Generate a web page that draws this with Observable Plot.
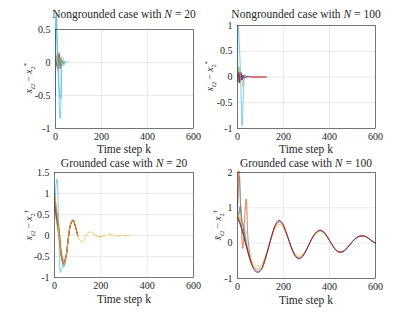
<!DOCTYPE html>
<html><head><meta charset="utf-8">
<script src="https://cdn.jsdelivr.net/npm/d3@7"></script>
<script src="https://cdn.jsdelivr.net/npm/@observablehq/plot@0.6"></script>
<style>
html,body{margin:0;padding:0;background:#fff;}
#root{position:relative;width:415px;height:312px;overflow:hidden;font-family:"Liberation Serif","DejaVu Serif",serif;color:#262626;}
.p{position:absolute;}
.t{position:absolute;font-size:11.5px;line-height:12px;white-space:nowrap;transform:translate(-50%,-50%);}
.yl{position:absolute;font-size:9.5px;white-space:nowrap;transform:translate(-50%,-50%) rotate(-90deg);}
sub,sup{font-size:70%;}
</style></head><body><div id="root"></div>
<script>
// MATLAB default colour order
const cBlue="#0072BD", cOrange="#D95319", cYellow="#EDB120", cPurple="#7E2F8E", cGreen="#77AC30", cLight="#4DBEEE", cRed="#A2142F";

// ---- Top-left: nongrounded, N = 20 ----
const tlK_light1=[0,3,20,25,28,35,45,55];
const tlV_light1=[-0.5,0.75,-0.85,-0.5,0.02,-0.05,0.02,0];
const tlK_light2=[0,2,8,14,22,30,40];
const tlV_light2=[0.3,0.7,0.15,-0.3,-0.55,0.08,0];
const tlK_orange=[0,10,15,20,25,30,40];
const tlV_orange=[0.1,-0.1,0.15,-0.1,0.05,-0.02,0];
const tlK_yellow=[0,8,14,20,26,34];
const tlV_yellow=[-0.1,0.15,-0.1,0.1,-0.05,0];
const tlK_purple=[0,10,16,22,28,36];
const tlV_purple=[0.05,-0.08,0.12,-0.06,0.03,0];
const tlK_green=[5,12,18,24,30,38];
const tlV_green=[0.1,-0.12,0.08,-0.05,0.02,0];

// ---- Top-right: nongrounded, N = 100 ----
const trK_light=[0,3,12,20,26,32,40,50];
const trV_light=[-0.1,1.0,0.2,-0.95,-0.3,0.05,-0.02,0];
const trK_red=[0,5,10,15,20,25,30,40,60,90,125];
const trV_red=[-0.05,0.1,-0.1,0.08,-0.06,0.04,-0.02,0.01,0,0,0];
const trK_purple=[0,4,9,14,19,24,30,40];
const trV_purple=[-0.1,0.05,-0.12,0.1,-0.05,0.03,-0.01,0];
const trK_blue=[0,5,10,16,22,28,36];
const trV_blue=[0,-0.1,0.08,-0.06,0.04,-0.02,0];
const trK_green=[0,6,10,16,22,30];
const trV_green=[-0.05,0.2,-0.05,0.05,-0.02,0];
const trK_yellow=[0,8,14,20,25,30,40];
const trV_yellow=[0.05,-0.05,0.1,-0.1,-0.2,0.03,0];
const trK_orange=[0,10,20,30,60,100,125];
const trV_orange=[0.02,0.04,-0.03,0.01,0,0,0];

// ---- Bottom-left: grounded, N = 20 ----
const blK_main=[0,10,20,30,40,50,60,70,80,90,100,110,120,130,140,150,160,170,180,190,200];
const blV_yellow=[1.0,0.6,0.0,-0.5,-0.7,-0.5,-0.05,0.28,0.37,0.22,0.0,-0.12,-0.15,-0.08,0.03,0.08,0.08,0.04,0.0,-0.03,-0.03];
const blK_tail=[200,215,235,255,275,295,315,330];
const blV_tail=[-0.03,0.0,0.03,0.01,-0.01,0.0,0.0,0.0];
const blK_early=[0,10,20,30,40,50,60,70,80,90,100];
const blV_red=[1.0,0.5,0.1,-0.45,-0.65,-0.48,-0.05,0.27,0.36,0.22,0.0];
const blV_green=[0.6,0.3,-0.1,-0.55,-0.72,-0.5,-0.06,0.28,0.37,0.22,0.0];
const blV_purple=[0.8,0.4,0.05,-0.5,-0.68,-0.5,-0.05,0.28,0.37,0.21,0.0];
const blV_orange=[0.9,0.55,0.15,-0.4,-0.6,-0.47,-0.04,0.27,0.36,0.22,0.0];
const blV_blue=[0.7,0.35,-0.05,-0.5,-0.74,-0.52,-0.06,0.28,0.37,0.22,0.0];
const blK_light=[0,5,11,18,26,33,40,50,60];
const blV_light=[0.6,1.1,1.35,0.3,-0.88,-0.75,-0.7,-0.5,-0.05];

// ---- Bottom-right: grounded, N = 100 ----
const brK_main=[0,15,30,45,60,75,90,105,120,135,150,165,180,195,210,225,240,255,270,285,300,315,330,345,360,375,390,405,420,435,450,465,480,495,510,525,540,555,570,585,600];
const brV_yellow=[0.95,0.55,0.15,-0.2,-0.47,-0.62,-0.66,-0.6,-0.38,-0.08,0.2,0.43,0.53,0.48,0.29,0.05,-0.18,-0.33,-0.37,-0.31,-0.16,0.02,0.18,0.29,0.33,0.29,0.17,0.02,-0.12,-0.22,-0.24,-0.2,-0.1,0.01,0.11,0.18,0.2,0.19,0.13,0.06,0.0];
const brV_green=[0.85,0.45,0.1,-0.25,-0.53,-0.7,-0.74,-0.67,-0.43,-0.11,0.22,0.48,0.59,0.53,0.32,0.05,-0.21,-0.37,-0.41,-0.34,-0.18,0.02,0.2,0.31,0.35,0.3,0.18,0.02,-0.13,-0.23,-0.25,-0.21,-0.11,0.01,0.11,0.18,0.2,0.19,0.13,0.06,0.0];
const brV_purple=[0.7,0.48,0.14,-0.24,-0.56,-0.75,-0.8,-0.72,-0.46,-0.12,0.23,0.51,0.63,0.55,0.33,0.05,-0.22,-0.39,-0.43,-0.35,-0.18,0.02,0.2,0.32,0.36,0.31,0.18,0.02,-0.13,-0.23,-0.25,-0.21,-0.11,0.01,0.11,0.18,0.2,0.19,0.13,0.06,0.0];
const brV_red=[0.75,0.5,0.15,-0.25,-0.58,-0.78,-0.83,-0.74,-0.48,-0.13,0.24,0.53,0.65,0.57,0.34,0.05,-0.23,-0.4,-0.44,-0.36,-0.19,0.02,0.21,0.33,0.37,0.32,0.19,0.02,-0.14,-0.24,-0.26,-0.22,-0.11,0.01,0.12,0.19,0.21,0.2,0.14,0.06,0.0];
const brK_orange=[0,6,14,23,30,38,46,60];
const brV_orange=[0.9,2.05,0.9,-0.15,0.6,1.25,0.1,-0.55];
const brK_light=[0,4,9,15,22,30,40,50];
const brV_light=[1.0,1.5,1.9,1.0,0.6,0.45,0.0,-0.35];
const brK_blue=[0,5,12,20,30,45,60];
const brV_blue=[0.95,0.8,1.05,0.6,0.3,-0.2,-0.55];

const xTicks=[0,200,400,600];

function ser(ks, vs, color, dash){ return {pts: ks.map((k,i)=>({k, v:vs[i]})), color, dash}; }

function panel(o){
  const marks=[
    Plot.gridX(xTicks,{stroke:"#dcdcdc",strokeOpacity:1,strokeWidth:0.6}),
    Plot.gridY(o.yTicks,{stroke:"#dcdcdc",strokeOpacity:1,strokeWidth:0.6}),
    Plot.axisX(xTicks,{tickSize:0,tickPadding:4,fontSize:10,label:null,tickFormat:d=>String(d)}),
    Plot.axisY(o.yTicks,{tickSize:0,tickPadding:5,fontSize:10,label:null,tickFormat:d=>String(d)}),
  ];
  for(const s of o.series){
    marks.push(Plot.line(s.pts,{x:"k",y:"v",stroke:s.color,strokeWidth:0.75,curve:"catmull-rom",strokeDasharray:s.dash||null}));
  }
  marks.push(Plot.frame({stroke:"#262626",strokeWidth:0.6}));
  const svg=Plot.plot({
    width:o.x1+12-o.left, height:o.y1+22-o.top,
    marginLeft:o.x0-o.left, marginRight:12, marginTop:o.y0-o.top, marginBottom:22,
    x:{domain:[0,600],axis:null,label:null}, y:{domain:o.yDomain,axis:null,label:null},
    style:{fontFamily:'"Liberation Serif","DejaVu Serif",serif',color:"#262626",background:"transparent",overflow:"visible"},
    marks
  });
  svg.classList.add("p");
  svg.style.left=o.left+"px"; svg.style.top=o.top+"px";
  return svg;
}

const root=document.getElementById("root");
const panels=[
  {left:0,top:0,x0:55,x1:193,y0:29,y1:128,yDomain:[-1,0.5],yTicks:[-1,-0.5,0,0.5],
   series:[ser(tlK_orange,tlV_orange,cOrange),ser(tlK_yellow,tlV_yellow,cYellow),ser(tlK_purple,tlV_purple,cPurple),ser(tlK_green,tlV_green,cGreen),ser(tlK_light2,tlV_light2,cLight),ser(tlK_light1,tlV_light1,cLight)]},
  {left:200,top:0,x0:237,x1:375,y0:25,y1:128,yDomain:[-1,1],yTicks:[-1,-0.5,0,0.5,1],
   series:[ser(trK_orange,trV_orange,cOrange),ser(trK_blue,trV_blue,cBlue),ser(trK_green,trV_green,cGreen),ser(trK_yellow,trV_yellow,cYellow),ser(trK_purple,trV_purple,cPurple),ser(trK_red,trV_red,cRed),ser(trK_light,trV_light,cLight)]},
  {left:0,top:160,x0:54,x1:193,y0:172,y1:277,yDomain:[-1,1.5],yTicks:[-1,-0.5,0,0.5,1,1.5],
   series:[ser(blK_early,blV_blue,cBlue),ser(blK_early,blV_green,cGreen),ser(blK_early,blV_purple,cPurple),ser(blK_early,blV_red,cRed),ser(blK_light,blV_light,cLight),ser(blK_early,blV_orange,cOrange),ser(blK_main,blV_yellow,cYellow),ser(blK_tail,blV_tail,cYellow,"5,3")]},
  {left:200,top:160,x0:237,x1:375,y0:172,y1:278,yDomain:[-1,2],yTicks:[-1,0,1,2],
   series:[ser(brK_blue,brV_blue,cBlue),ser(brK_light,brV_light,cLight),ser(brK_orange,brV_orange,cOrange),ser(brK_main,brV_yellow,cYellow),ser(brK_main,brV_green,cGreen),ser(brK_main,brV_purple,cPurple),ser(brK_main,brV_red,cRed)]}
];
panels.forEach(p=>root.appendChild(panel(p)));

function txt(cls,html,x,y){const d=document.createElement("div");d.className=cls;d.innerHTML=html;d.style.left=x+"px";d.style.top=y+"px";root.appendChild(d);}
txt("t","Nongrounded case with <i>N</i> = 20",124,14);
txt("t","Nongrounded case with <i>N</i> = 100",306,14);
txt("t","Grounded case with <i>N</i> = 20",124,163);
txt("t","Grounded case with <i>N</i> = 100",306,163);
txt("t","Time step k",124,149);
txt("t","Time step k",306,149);
txt("t","Time step k",124,299);
txt("t","Time step k",306,300);
txt("yl","<i>x</i><sub><i>i</i>2</sub> − <i>x</i><sub>2</sub><sup>*</sup>",29,78);
txt("yl","<i>x</i><sub><i>i</i>2</sub> − <i>x</i><sub>2</sub><sup>*</sup>",210,76);
txt("yl","<i>x</i><sub><i>i</i>2</sub> − <i>x</i><sub>2</sub><sup>†</sup>",29,225);
txt("yl","<i>x̄</i><sub><i>i</i>2</sub> − <i>x</i><sub>2</sub><sup>†</sup>",218,225);
</script></body></html>
